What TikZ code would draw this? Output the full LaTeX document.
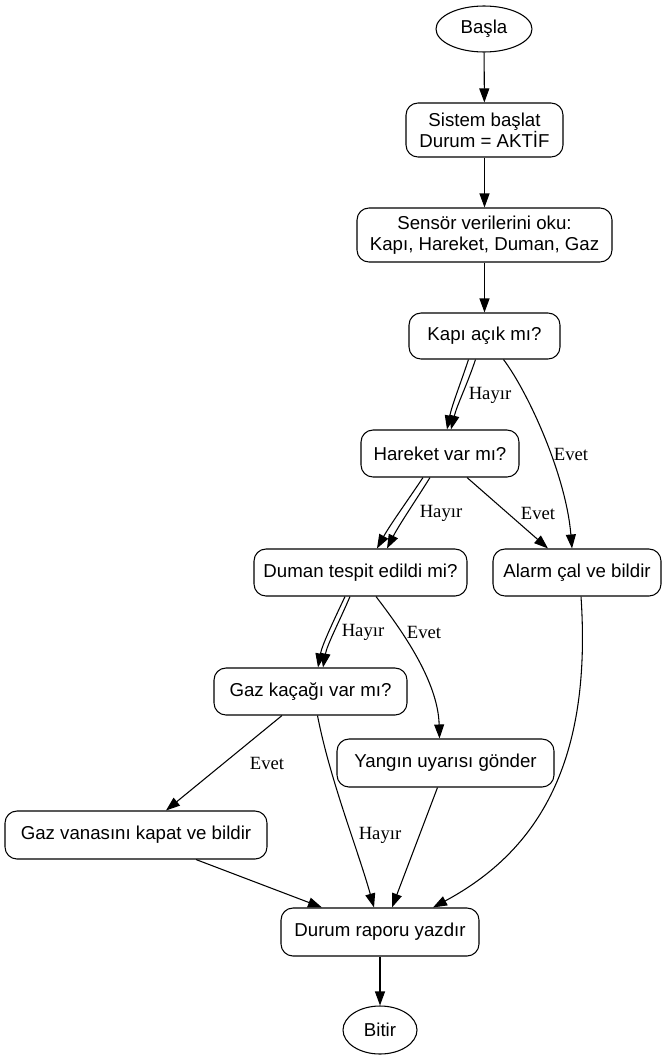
\documentclass[tikz,border=0pt]{standalone}
\usepackage{fontspec}
\setmainfont{Liberation Serif}
\newfontfamily\nodefont{Liberation Sans}
\usetikzlibrary{arrows.meta,shapes.geometric,calc}
\tikzset{
  box/.style={draw, rounded corners=9pt, line width=0.8pt, inner sep=0pt, align=center,
    font=\nodefont\fontsize{14}{16}\selectfont},
  oval/.style={draw, ellipse, line width=0.8pt, inner sep=0pt,
    font=\nodefont\fontsize{14}{16}\selectfont},
  lbl/.style={inner sep=0pt, font=\fontsize{14}{16}\selectfont},
  arr/.style={line width=0.8pt, -{Triangle[length=10.5pt,width=7.5pt]}},
}
\begin{document}
\begin{tikzpicture}[x=0.75pt,y=-0.75pt]
\useasboundingbox (0,0) rectangle (667,1060);
\node[oval, minimum width=72pt, minimum height=34.5pt] (basla) at (484,29) {Başla};
\node[box, minimum width=117.75pt, minimum height=40.5pt] (sistem) at (484.5,130) {Sistem başlat\\Durum = AKTİF};
\node[box, minimum width=191.25pt, minimum height=40.5pt] (sensor) at (484.5,235) {Sensör verilerini oku:\\Kapı, Hareket, Duman, Gaz};
\node[box, minimum width=113.25pt, minimum height=34.5pt] (kapi) at (484.5,336) {Kapı açık mı?};
\node[box, minimum width=118.5pt, minimum height=35.25pt] (hareket) at (440,453.5) {Hareket var mı?};
\node[box, minimum width=159.75pt, minimum height=35.25pt] (duman) at (360.5,572.5) {Duman tespit edildi mi?};
\node[box, minimum width=126pt, minimum height=35.25pt] (alarm) at (577,572.5) {Alarm çal ve bildir};
\node[box, minimum width=144.75pt, minimum height=35.25pt] (gaz) at (310.5,691.5) {Gaz kaçağı var mı?};
\node[box, minimum width=162.75pt, minimum height=36pt] (yangin) at (445.5,763) {Yangın uyarısı gönder};
\node[box, minimum width=196.5pt, minimum height=36pt] (vana) at (136,835) {Gaz vanasını kapat ve bildir};
\node[box, minimum width=148.5pt, minimum height=36pt] (durum) at (380,932) {Durum raporu yazdır};
\node[oval, minimum width=55.5pt, minimum height=36pt] (bitir) at (380,1030) {Bitir};

\draw[arr] (basla) -- (sistem);
\draw[arr] (sistem) -- (sensor);
\draw[arr] (sensor) -- (kapi);

% Kapi -> Hareket (Hayir) double
\draw[arr] ($(kapi.south)+(-16,0)$) .. controls (460,385) and (452,405) .. ($(hareket.north)+(7,0)$);
\draw[arr] ($(kapi.south)+(-9,0)$) .. controls (467,385) and (457,405) .. ($(hareket.north)+(11,0)$);
\node[lbl] (l1) at (490,395) {Hayır};
% Kapi -> Alarm (Evet)
\draw[arr] ($(kapi.south)+(19,0)$) .. controls (528,392) and (566,475) .. ($(alarm.north)+(-5,0)$);
\node[lbl] (l2) at (571,454) {Evet};

% Hareket -> Duman (Hayir) double
\draw[arr] ($(hareket.south)+(-17,0)$) .. controls (408,500) and (390,525) .. ($(duman.north)+(16.5,0)$);
\draw[arr] ($(hareket.south)+(-10,0)$) .. controls (416,500) and (399,525) .. ($(duman.north)+(26.5,0)$);
\node[lbl] (l3) at (441,513) {Hayır};
% Hareket -> Alarm (Evet)
\draw[arr] ($(hareket.south)+(27,0)$) -- ($(alarm.north)+(-29,0)$);
\node[lbl] (l4) at (538,513) {Evet};

% Duman -> Gaz (Hayir) double
\draw[arr] ($(duman.south)+(-15.5,0)$) .. controls (334,620) and (322,645) .. ($(gaz.north)+(7.5,0)$);
\draw[arr] ($(duman.south)+(-10.5,0)$) .. controls (340,620) and (327,645) .. ($(gaz.north)+(12.5,0)$);
\node[lbl] (l5) at (363,632) {Hayır};
% Duman -> Yangin (Evet)
\draw[arr] ($(duman.south)+(15.5,0)$) .. controls (400,628) and (438,680) .. ($(yangin.north)+(-6,0)$);
\node[lbl] (l6) at (424,632) {Evet};

% Gaz -> Vana (Evet)
\draw[arr] ($(gaz.south)+(-28.5,0)$) -- ($(vana.north)+(30,0)$);
\node[lbl] (l7) at (267,763) {Evet};
% Gaz -> Durum (Hayir)
\draw[arr] ($(gaz.south)+(7,0)$) .. controls (330,780) and (358,850) .. ($(durum.north)+(-6,0)$);
\node[lbl] (l8) at (380,835) {Hayır};

% into Durum
\draw[arr] ($(vana.south)+(60,0)$) -- ($(durum.north)+(-58,0)$);
\draw[arr] ($(yangin.south)+(-8,0)$) -- ($(durum.north)+(12,0)$);
\draw[arr] ($(alarm.south)+(4,0)$) .. controls (592,760) and (540,850) .. ($(durum.north)+(53,0)$);

\draw[arr] (durum) -- (bitir);
\end{tikzpicture}
\end{document}
